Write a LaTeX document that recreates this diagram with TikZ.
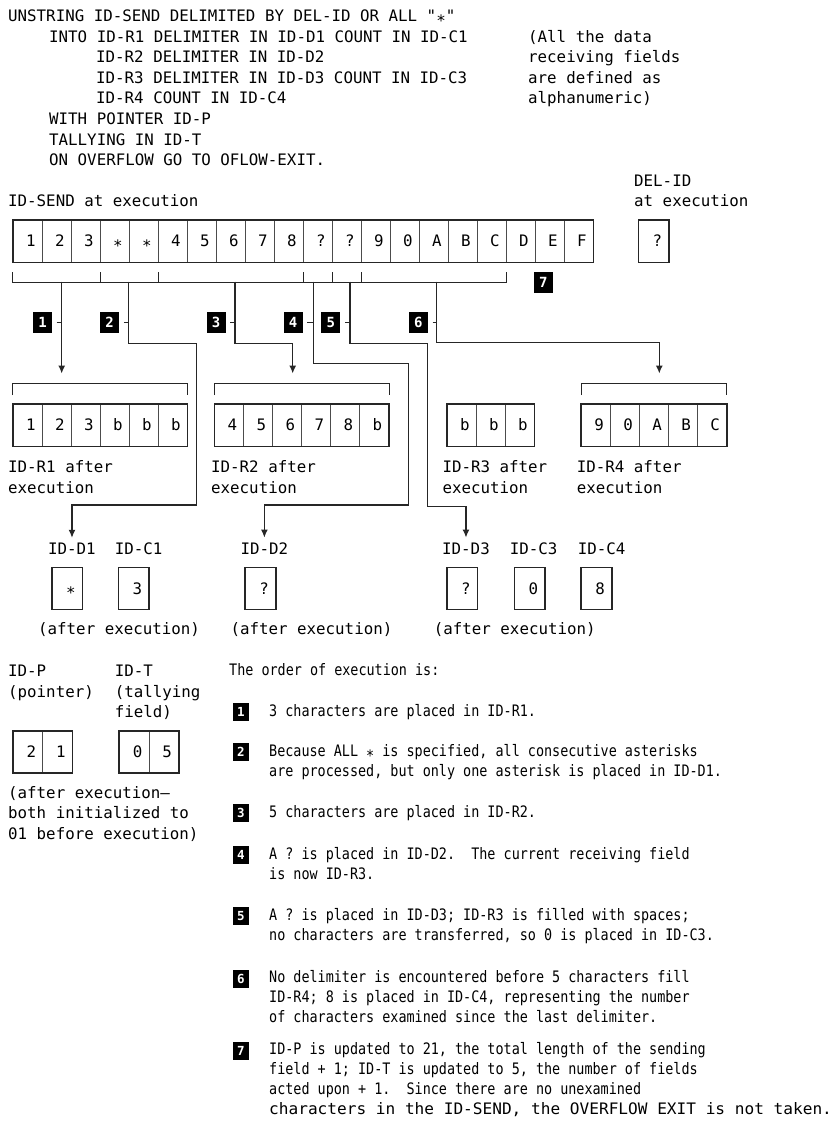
\documentclass[tikz,border=0pt]{standalone}
\usepackage{fontspec}
\setmonofont{DejaVu Sans Mono}
\newfontfamily\narrowtt[FakeStretch=0.85]{DejaVu Sans Mono}
\newfontfamily\widett[FakeStretch=1.02]{DejaVu Sans Mono}
\usetikzlibrary{arrows.meta,positioning,calc}
\newcommand\astr{\raisebox{-0.3em}{*}}
\frenchspacing

\begin{document}
\begin{tikzpicture}[x=1pt,y=-1pt,>={Latex[length=8pt,width=7pt]},
  every node/.style={font=\ttfamily\fontsize{15.8}{20.6}\selectfont,inner sep=0pt}]
\tikzset{txt/.style={anchor=base west,align=left},
  note/.style={anchor=base west,align=left,font=\narrowtt\fontsize{15.8}{20}\selectfont},
  cell/.style={draw=black!70,line width=0.8pt,anchor=north west,minimum height=41.5pt,inner xsep=6.5pt,text width=#1,align=right,text height=11.5pt,text depth=0pt},
  cell/.default=16pt,
  frame/.style={line width=1.6pt,black!85},
  brace/.style={line width=1pt,black!85},
  conn/.style={line width=1.3pt,black!85,->},
  callout/.style={fill=black,text=white,font=\ttfamily\bfseries\fontsize{14}{14}\selectfont,minimum width=19pt,minimum height=21pt},
  keyno/.style={fill=black,text=white,font=\ttfamily\bfseries\fontsize{12.5}{12.5}\selectfont,minimum width=16.6pt,minimum height=18.4pt}}
\fill[white] (0,0) rectangle (837,1128);
\useasboundingbox (0,0) rectangle (837,1128);

% statement (multi-line nodes sit on their last baseline)
\node[txt] (code) at (8,165.7) {UNSTRING ID-SEND DELIMITED BY DEL-ID OR ALL "\astr"\\
\hspace*{41pt}INTO ID-R1 DELIMITER IN ID-D1 COUNT IN ID-C1\\
\hspace*{88pt}ID-R2 DELIMITER IN ID-D2\\
\hspace*{88pt}ID-R3 DELIMITER IN ID-D3 COUNT IN ID-C3\\
\hspace*{88pt}ID-R4 COUNT IN ID-C4\\
\hspace*{41pt}WITH POINTER ID-P\\
\hspace*{41pt}TALLYING IN ID-T\\
\hspace*{41pt}ON OVERFLOW GO TO OFLOW-EXIT.};
\node[txt] (remark) at (528,103.9) {(All the data\\receiving fields\\are defined as\\alphanumeric)};

% sending field and delimiter
\node[txt] (sendlbl) at (8,206.7) {ID-SEND at execution};
\node[txt] (dellbl) at (634,206.7) {DEL-ID\\at execution};
\foreach \ch [count=\i] in {1,2,3,\astr,\astr,4,5,6,7,8,?,?,9,0,A,B,C,D,E,F}
  \node[cell] (s\i) at ({12.7+29*(\i-1)},220) {\ch};
\draw[frame] (s1.north west) rectangle (s20.south east);
\node[cell=17pt] (del) at (638.3,220) {?};
\draw[frame] (del.north west) rectangle (del.south east);

% brackets under ID-SEND
\draw[brace] ($(s1.south west)+(0,10)$) -- ($(s1.south west)+(0,20)$) -- ($(s17.south east)+(0,20)$) -- ($(s17.south east)+(0,10)$);
\foreach \k in {3,5,10,11,12}
  \draw[brace] ($(s\k.south east)+(0,10)$) -- ($(s\k.south east)+(0,20)$);
\coordinate (b1) at (61.7,281.5);
\coordinate (b2) at (128.3,281.5);
\coordinate (b3) at (235,281.5);
\coordinate (b4) at (313.3,281.5);
\coordinate (b5) at (350,281.5);
\coordinate (b6) at (436.7,281.5);

% step callouts
\node[callout] (n1) at (42.5,322.3) {1};
\node[callout] (n2) at (109.7,322.3) {2};
\node[callout] (n3) at (216.2,322.3) {3};
\node[callout] (n4) at (293.2,322.3) {4};
\node[callout] (n5) at (330.8,322.3) {5};
\node[callout] (n6) at (418.3,322.3) {6};
\node[callout] (n7) at (543.3,282.2) {7};
\foreach \k in {1,...,6}
  \draw[brace] ($(n\k.east)+(4.5,0)$) -- (n\k.east -| b\k);

% receiving fields
\foreach \ch [count=\i] in {1,2,3,b,b,b}
  \node[cell] (ra\i) at ({12.7+29*(\i-1)},404) {\ch};
\foreach \ch [count=\i] in {4,5,6,7,8,b}
  \node[cell] (rb\i) at ({214.3+29*(\i-1)},404) {\ch};
\foreach \ch [count=\i] in {b,b,b}
  \node[cell] (rc\i) at ({446.7+29*(\i-1)},404) {\ch};
\foreach \ch [count=\i] in {9,0,A,B,C}
  \node[cell] (rd\i) at ({581+29*(\i-1)},404) {\ch};
\draw[frame] (ra1.north west) rectangle (ra6.south east);
\draw[frame] (rb1.north west) rectangle (rb6.south east);
\draw[frame] (rc1.north west) rectangle (rc3.south east);
\draw[frame] (rd1.north west) rectangle (rd5.south east);
\draw[brace] ($(ra1.north west)+(0,-9)$) -- ($(ra1.north west)+(0,-20.7)$) -- ($(ra6.north east)+(0,-20.7)$) -- ($(ra6.north east)+(0,-9)$);
\draw[brace] ($(rb1.north west)+(0,-9)$) -- ($(rb1.north west)+(0,-20.7)$) -- ($(rb6.north east)+(0,-20.7)$) -- ($(rb6.north east)+(0,-9)$);
\draw[brace] ($(rd1.north west)+(0,-9)$) -- ($(rd1.north west)+(0,-20.7)$) -- ($(rd5.north east)+(0,-20.7)$) -- ($(rd5.north east)+(0,-9)$);
\node[txt] (ralbl) at (8,493) {ID-R1 after\\execution};
\node[txt] (rblbl) at (211,493) {ID-R2 after\\execution};
\node[txt] (rclbl) at (442.3,493) {ID-R3 after\\execution};
\node[txt] (rdlbl) at (576.7,493) {ID-R4 after\\execution};

% delimiter and count fields
\node[txt] (d1) at (48,554) {ID-D1};
\node[txt] (c1) at (114.7,554) {ID-C1};
\node[txt] (d2) at (240.4,554) {ID-D2};
\node[txt] (d3) at (442,554) {ID-D3};
\node[txt] (c3) at (509.7,554) {ID-C3};
\node[txt] (c4) at (577.7,554) {ID-C4};
\node[cell=17pt] (d1v) at (51.7,567.3) {\astr};
\node[cell=17pt] (c1v) at (118.3,567.3) {3};
\node[cell=17pt] (d2v) at (245,567.3) {?};
\node[cell=17pt] (d3v) at (446.7,567.3) {?};
\node[cell=17pt] (c3v) at (514.3,567.3) {0};
\node[cell=17pt] (c4v) at (581,567.3) {8};
\foreach \f in {d1v,c1v,d2v,d3v,c3v,c4v}
  \draw[frame] (\f.north west) rectangle (\f.south east);
\node[txt] (after1) at (38,634) {(after execution)};
\node[txt] (after2) at (230.4,634) {(after execution)};
\node[txt] (after3) at (433.7,634) {(after execution)};

% moves
\draw[conn,shorten >=30.5pt] (b1) -- (b1 |- ra1.north);
\draw[conn,shorten >=4.5pt] (b2) -- ++(0,61.8) -| (196.7,505) -| (d1.north);
\draw[conn,shorten >=30.5pt] (b3) -- ++(0,61.8) -| ($(rb1.north west)+(78.4,0)$);
\draw[conn,shorten >=4.5pt] (b4) -- ++(0,81.8) -| (408.3,505) -| (d2.north);
\draw[conn,shorten >=4.5pt] (b5) -- ++(0,61.8) -| (427.5,506.7) -| (d3.north);
\draw[conn,shorten >=30.5pt] (b6) -- ++(0,61.2) -| ($(rd1.north west)+(78.3,0)$);

% pointer and tally
\node[txt] (ptrlbl) at (8,697.3) {ID-P\\(pointer)};
\node[txt] (tlylbl) at (114.7,717.9) {ID-T\\(tallying\\field)};
\node[cell=16.5pt] (p1) at (12.7,730.7) {2};
\node[cell=16.5pt] (p2) at (42.2,730.7) {1};
\node[cell=16.5pt] (t1) at (119,730.7) {0};
\node[cell=16.5pt] (t2) at (148.5,730.7) {5};
\draw[frame] (p1.north west) rectangle (p2.south east);
\draw[frame] (t1.north west) rectangle (t2.south east);
\node[txt] (ptnote) at (8,839.2) {(after execution—\\both initialized to\\01 before execution)};

% order of execution
\node[note] (order) at (229,675) {The order of execution is:};
\node[keyno] (k1) at (241,712) {1};
\node[keyno] (k2) at (241,752) {2};
\node[keyno] (k3) at (241,813) {3};
\node[keyno] (k4) at (241,855) {4};
\node[keyno] (k5) at (241,916) {5};
\node[keyno] (k6) at (241,979) {6};
\node[keyno] (k7) at (241,1051) {7};
\node[note] (i1) at (269,716.5) {3 characters are placed in ID-R1.};
\node[note] (i2) at (269,776.5) {Because ALL \astr{} is specified, all consecutive asterisks\\are processed, but only one asterisk is placed in ID-D1.};
\node[note] (i3) at (269,817.5) {5 characters are placed in ID-R2.};
\node[note] (i4) at (269,879.5) {A ? is placed in ID-D2.~ The current receiving field\\is now ID-R3.};
\node[note] (i5) at (269,940.5) {A ? is placed in ID-D3; ID-R3 is filled with spaces;\\no characters are transferred, so 0 is placed in ID-C3.};
\node[note] (i6) at (269,1022.5) {No delimiter is encountered before 5 characters fill\\ID-R4; 8 is placed in ID-C4, representing the number\\of characters examined since the last delimiter.};
\node[note] (i7) at (269,1094.5) {ID-P is updated to 21, the total length of the sending\\field + 1; ID-T is updated to 5, the number of fields\\acted upon + 1.~ Since there are no unexamined};
\node[txt,font=\widett\fontsize{15.8}{20}\selectfont] (i7b) at (269,1114.5) {characters in the ID-SEND, the OVERFLOW EXIT is not taken.};
\end{tikzpicture}
\end{document}
